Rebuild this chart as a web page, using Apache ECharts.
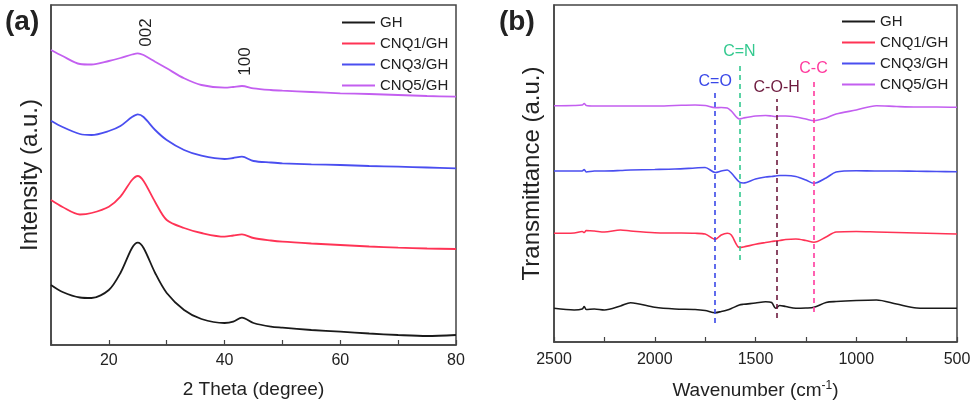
<!DOCTYPE html>
<html style="height: 100%">
<head>
<meta charset="utf-8">
</head>
<body style="height: 100%; margin: 0; background: #fff">
<div id="container" style="width: 975px; height: 407px"></div>
<script src="https://cdn.jsdelivr.net/npm/echarts@6/dist/echarts.min.js"></script>
<script>
// ---- (a) XRD ----
var xrdTheta = [10, 12, 15, 17, 20, 22, 24, 25, 26, 28, 30, 33, 36, 40, 41.5, 43, 45, 48, 50, 55, 60, 65, 70, 75, 80];
var xrdGH   = [60, 53, 47.5, 47, 55, 72, 97, 102.3, 97, 72, 52, 35, 26, 22, 23.3, 27.3, 22, 18.3, 17.3, 15, 13.3, 11.5, 10, 9, 10];
var xrdCNQ1 = [145, 138, 130.5, 132, 138.3, 148.3, 165, 169, 164, 143, 125, 117, 112, 108.3, 109.5, 110.7, 107, 104.5, 103.3, 101.5, 100, 98.5, 97.3, 96.5, 96];
var xrdCNQ3 = [224.3, 218, 211, 210, 214, 219, 228, 230.7, 228, 215, 205, 195, 189.3, 186, 187, 188.3, 184, 182.5, 181.7, 180.7, 180, 179, 178.3, 177.5, 176.7];
var xrdCNQ5 = [295, 289, 281, 280.5, 284, 287, 290.5, 291.7, 290, 283.3, 276.7, 266.7, 260, 257.3, 258, 259, 256.7, 255, 254.3, 253, 251.7, 251, 250, 249, 248.3];
var peakNames = ['002', '100'];
var peakPos = [[26.5, 312.5], [43.6, 283.5]];

// ---- (b) FTIR ----
var ftirWave = [2500, 2400, 2360, 2350, 2340, 2300, 2250, 2170, 2120, 2000, 1900, 1800, 1750, 1700, 1670, 1640, 1620, 1580, 1560, 1500, 1450, 1420, 1400, 1380, 1350, 1300, 1250, 1210, 1150, 1100, 1000, 900, 800, 700, 600, 500];
var ftirGH   = [33.7, 32, 33, 35.5, 32.5, 33, 32, 36, 39.3, 34.7, 33, 32.5, 31.5, 29.3, 30.5, 32, 33.5, 37, 37.7, 39, 40.3, 39.5, 33.7, 36.5, 35.5, 33.7, 34, 34.7, 39.5, 40.5, 41.5, 42, 38, 34, 33.7, 33.7];
var ftirCNQ1 = [108.7, 109, 110.5, 109.5, 111.5, 111, 110, 112, 111, 109.3, 109, 108.7, 108, 102.7, 107, 108.7, 107, 94.5, 95, 97.7, 99.5, 100.5, 101, 101.5, 102.5, 103, 101.5, 99.7, 105, 110, 110.5, 110, 109.5, 109, 108.5, 108];
var ftirCNQ3 = [171, 171, 171, 172.5, 170, 171, 171, 171.5, 172, 172.5, 173, 174, 174.5, 169.5, 171, 172, 169, 160, 159, 163, 165, 165.5, 166, 166.5, 166.5, 165.5, 162, 158.7, 164, 170, 171.3, 171, 171, 170.7, 170.5, 170.3];
var ftirCNQ5 = [236.3, 236.5, 237, 238.5, 236.5, 236, 236, 236, 236, 236, 236.5, 237, 236.5, 234.3, 234.5, 234, 231, 223, 224, 226, 226.5, 226, 225.5, 226, 226, 225, 223, 221.3, 224, 228, 232, 236.3, 235.5, 235, 235, 234.7];
var bandNames = ['C=O', 'C=N', 'C-O-H', 'C-C'];
var bandWave = [1700, 1580, 1395, 1212];
var bandFrom = [19, 82, 24, 30];
var bandTo = [249, 279, 243, 262];
var bandColors = ['#3a48e8', '#33c98f', '#6e1b3f', '#ff3a9e'];

var names = ['GH', 'CNQ1/GH', 'CNQ3/GH', 'CNQ5/GH'];
var colors = ['#1a1a1a', '#ff3355', '#4a4ef0', '#c35ff0'];

var font = 'Arial, "Liberation Sans", sans-serif';
var ink = '#222';

function zip(xs, ys) {
    return xs.map(function (x, i) { return [x, ys[i]]; });
}

var dom = document.getElementById('container');
var myChart = echarts.init(dom);

var series = [];
[xrdGH, xrdCNQ1, xrdCNQ3, xrdCNQ5].forEach(function (ys, i) {
    series.push({
        name: names[i],
        type: 'line',
        xAxisIndex: 0,
        yAxisIndex: 0,
        data: zip(xrdTheta, ys),
        showSymbol: false,
        smooth: 0.3,
        lineStyle: { color: colors[i], width: 1.8 },
        itemStyle: { color: colors[i] }
    });
});
series[3].markPoint = {
    symbolSize: 0,
    silent: true,
    data: peakNames.map(function (n, i) {
        return { name: n, coord: peakPos[i] };
    }),
    label: {
        show: true,
        position: 'inside',
        formatter: '{b}',
        rotate: 90,
        fontSize: 17,
        fontFamily: font,
        color: ink
    }
};

[ftirGH, ftirCNQ1, ftirCNQ3, ftirCNQ5].forEach(function (ys, i) {
    series.push({
        name: names[i],
        type: 'line',
        xAxisIndex: 1,
        yAxisIndex: 1,
        data: zip(ftirWave, ys),
        showSymbol: false,
        smooth: 0.3,
        lineStyle: { color: colors[i], width: 1.6 },
        itemStyle: { color: colors[i] }
    });
});

var bandLines = bandNames.map(function (n, i) {
    var style = { color: bandColors[i], type: [5, 4], width: 1.6 };
    var lab = { show: true, position: 'end', distance: 3, formatter: n, color: bandColors[i], fontSize: 16, fontFamily: font };
    return [
        { coord: [bandWave[i], bandFrom[i]], lineStyle: style, label: lab },
        { coord: [bandWave[i], bandTo[i]], lineStyle: style, label: lab }
    ];
});
series[7].markLine = {
    silent: true,
    symbol: ['none', 'none'],
    animation: false,
    data: bandLines
};

var axisLine = { show: true, lineStyle: { color: '#444', width: 1.5 } };
var tickLabel = { fontSize: 16, fontFamily: font, color: ink };
var nameStyle = { fontSize: 19, fontFamily: font, color: ink };
var yNameStyle = { fontSize: 24, fontFamily: font, color: ink };

var option = {
    animation: false,
    title: [
        { text: '(a)', left: 0, top: 3, textStyle: { fontSize: 28, fontWeight: 'bold', fontFamily: font, color: ink } },
        { text: '(b)', left: 494, top: 3, textStyle: { fontSize: 28, fontWeight: 'bold', fontFamily: font, color: ink } }
    ],
    legend: [
        {
            data: names, orient: 'vertical', left: 337, top: 10,
            icon: 'rect', itemWidth: 33, itemHeight: 2, itemGap: 6,
            textStyle: { fontSize: 15, fontFamily: font, color: ink }
        },
        {
            data: names, orient: 'vertical', left: 837, top: 9,
            icon: 'rect', itemWidth: 33, itemHeight: 2, itemGap: 6,
            textStyle: { fontSize: 15, fontFamily: font, color: ink }
        }
    ],
    grid: [
        { left: 51, right: 519, top: 5, bottom: 62, show: true, borderColor: '#444', borderWidth: 1.5 },
        { left: 554, right: 18, top: 5, bottom: 65, show: true, borderColor: '#444', borderWidth: 1.5 }
    ],
    xAxis: [
        {
            type: 'value', gridIndex: 0, min: 10, max: 80, interval: 10,
            name: '2 Theta (degree)', nameLocation: 'middle', nameGap: 35, nameTextStyle: nameStyle,
            axisLine: axisLine,
            axisTick: { inside: true, length: 5, lineStyle: { color: '#444', width: 1.2 } },
            axisLabel: Object.assign({ margin: 8, formatter: function (v) { return v % 20 === 0 ? v : ''; } }, tickLabel),
            splitLine: { show: false }
        },
        {
            type: 'value', gridIndex: 1, min: 500, max: 2500, interval: 250, inverse: true,
            name: 'Wavenumber (cm{sup|-1})', nameLocation: 'middle', nameGap: 38,
            nameTextStyle: Object.assign({ rich: { sup: { fontSize: 12, fontFamily: font, color: ink, verticalAlign: 'top', padding: [0, 0, 10, 0] } } }, nameStyle),
            axisLine: axisLine,
            axisTick: { inside: true, length: 5, lineStyle: { color: '#444', width: 1.2 } },
            axisLabel: Object.assign({ margin: 10, formatter: function (v) { return v % 500 === 0 ? v : ''; } }, tickLabel),
            splitLine: { show: false }
        }
    ],
    yAxis: [
        {
            type: 'value', gridIndex: 0, min: 0, max: 340,
            name: 'Intensity (a.u.)', nameLocation: 'middle', nameGap: 9, nameTextStyle: yNameStyle,
            axisLine: axisLine, axisTick: { show: false }, axisLabel: { show: false }, splitLine: { show: false }
        },
        {
            type: 'value', gridIndex: 1, min: 0, max: 337,
            name: 'Transmittance (a.u.)', nameLocation: 'middle', nameGap: 10, nameTextStyle: yNameStyle,
            axisLine: axisLine, axisTick: { show: false }, axisLabel: { show: false }, splitLine: { show: false }
        }
    ],
    series: series
};

if (option && typeof option === 'object') {
    myChart.setOption(option);
}
</script>
</body>
</html>
